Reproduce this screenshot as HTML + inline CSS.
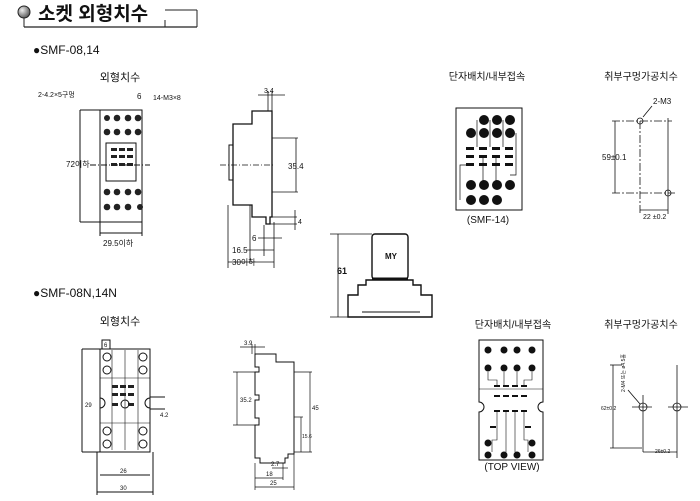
<!DOCTYPE html>
<html><head><meta charset="utf-8"><style>
html,body{margin:0;padding:0;background:#fff;}
svg{display:block;}
text{font-family:"Liberation Sans","Noto Sans CJK KR",sans-serif;fill:#111;}
</style></head><body>
<svg width="700" height="501" viewBox="0 0 700 501" xmlns="http://www.w3.org/2000/svg">
<defs>
<radialGradient id="g" cx="0.35" cy="0.35" r="0.7"><stop offset="0" stop-color="#eee"/><stop offset="1" stop-color="#555"/></radialGradient>
</defs>
<!-- header -->
<circle cx="24" cy="12" r="6" fill="url(#g)" stroke="#222"/>
<line x1="24" y1="18" x2="24" y2="27" stroke="#222"/>
<line x1="24" y1="27" x2="197" y2="27" stroke="#222" stroke-width="1.2"/>
<line x1="165" y1="10" x2="197" y2="10" stroke="#222"/>
<line x1="197" y1="10" x2="197" y2="27" stroke="#222"/>
<line x1="165" y1="20" x2="165" y2="27" stroke="#222"/>
<text x="38" y="20" font-size="19" font-weight="bold">소켓 외형치수</text>

<text x="33" y="54" font-size="12">●SMF-08,14</text>
<text x="120" y="81" font-size="11" text-anchor="middle">외형치수</text>
<text x="38" y="97" font-size="7">2-4.2×5구멍</text>
<text x="153" y="100" font-size="7">14-M3×8</text>
<text x="137" y="99" font-size="8">6</text>

<!-- front view 1 -->
<g stroke="#111" fill="none" stroke-width="1">
<rect x="100" y="110" width="42" height="112"/>
<line x1="80" y1="110" x2="100" y2="110"/><line x1="80" y1="222" x2="100" y2="222"/>
<line x1="80" y1="110" x2="80" y2="222"/>
<line x1="100" y1="222" x2="100" y2="236"/><line x1="142" y1="222" x2="142" y2="236"/>
<line x1="100" y1="233" x2="142" y2="233"/>
<rect x="106" y="143" width="30" height="38"/>
<line x1="90" y1="165" x2="150" y2="165" stroke-dasharray="6 2 1 2"/>
</g>
<g fill="#222">
<circle cx="107" cy="118" r="3"/><circle cx="117" cy="118" r="3.3"/><circle cx="128" cy="118" r="3.3"/><circle cx="138" cy="118" r="3.3"/>
<circle cx="107" cy="132" r="3.3"/><circle cx="117" cy="132" r="3.3"/><circle cx="128" cy="132" r="3.3"/><circle cx="138" cy="132" r="3.3"/>
<circle cx="107" cy="192" r="3.3"/><circle cx="117" cy="192" r="3.3"/><circle cx="128" cy="192" r="3.3"/><circle cx="138" cy="192" r="3.3"/>
<circle cx="107" cy="207" r="3.3"/><circle cx="117" cy="207" r="3.3"/><circle cx="128" cy="207" r="3.3"/><circle cx="140" cy="207" r="3"/>
<rect x="111" y="148" width="6" height="3"/><rect x="119" y="148" width="6" height="3"/><rect x="127" y="148" width="6" height="3"/>
<rect x="111" y="155" width="6" height="3"/><rect x="119" y="155" width="6" height="3"/><rect x="127" y="155" width="6" height="3"/>
<rect x="111" y="163" width="6" height="3"/><rect x="119" y="163" width="6" height="3"/><rect x="127" y="163" width="6" height="3"/>
</g>
<text x="66" y="167" font-size="8">72이하</text>
<text x="103" y="246" font-size="8">29.5이하</text>

<!-- side view 1 -->
<g stroke="#111" fill="none" stroke-width="1.3">
<path d="M252,111 H272 V217 H270 V224 H266 V217 H252 V205 H233 V124 H252 Z"/>
<rect x="229" y="145" width="4" height="35" stroke-width="1"/>
</g>
<g stroke="#111" fill="none" stroke-width="0.8">
<line x1="220" y1="165" x2="275" y2="165" stroke-dasharray="6 2 1 2"/>
<line x1="268" y1="91" x2="268" y2="111"/><line x1="272" y1="91" x2="272" y2="111"/><line x1="258" y1="95" x2="285" y2="95"/>
<line x1="272" y1="138" x2="298" y2="138"/><line x1="272" y1="192" x2="298" y2="192"/><line x1="296" y1="138" x2="296" y2="192"/>
<line x1="270" y1="217" x2="297" y2="217"/><line x1="270" y1="224" x2="297" y2="224"/><line x1="295" y1="210" x2="295" y2="230"/>
<line x1="264" y1="225" x2="264" y2="256"/><line x1="250" y1="205" x2="250" y2="262"/><line x1="228" y1="205" x2="228" y2="268"/><line x1="274" y1="222" x2="274" y2="268"/>
<line x1="258" y1="238" x2="282" y2="238"/><line x1="246" y1="250" x2="274" y2="250"/><line x1="228" y1="262" x2="274" y2="262"/>
</g>
<text x="264" y="93" font-size="7">3.4</text>
<text x="288" y="169" font-size="8">35.4</text>
<text x="298" y="224" font-size="7">4</text>
<text x="252" y="241" font-size="8">6</text>
<text x="232" y="253" font-size="8">16.5</text>
<text x="232" y="265" font-size="8">30이하</text>

<!-- relay -->
<g stroke="#111" fill="none" stroke-width="1.4">
<rect x="372" y="234" width="36" height="45" rx="3"/>
<path d="M348,317 V295 H358 V285 H366 V280 H413 V285 H421 V295 H432 V317 Z"/>
<line x1="372" y1="279" x2="408" y2="279" stroke-width="3"/>
<line x1="362" y1="312" x2="420" y2="312" stroke-width="1"/>
</g>
<g stroke="#111" stroke-width="0.8">
<line x1="330" y1="234" x2="372" y2="234"/><line x1="330" y1="317" x2="348" y2="317"/><line x1="338" y1="234" x2="338" y2="317"/>
</g>
<text x="385" y="259" font-size="8" font-weight="bold">MY</text>
<text x="337" y="274" font-size="9" font-weight="bold">61</text>

<!-- terminal 1 -->
<text x="487" y="80" font-size="10" text-anchor="middle">단자배치/내부접속</text>
<rect x="456" y="108" width="66" height="102" fill="none" stroke="#111"/>
<g fill="#111">
<circle cx="484" cy="120" r="5"/><circle cx="497" cy="120" r="5"/><circle cx="510" cy="120" r="5"/>
<circle cx="471" cy="133" r="5"/><circle cx="484" cy="133" r="5"/><circle cx="497" cy="133" r="5"/><circle cx="510" cy="133" r="5"/>
<circle cx="471" cy="185" r="5"/><circle cx="484" cy="185" r="5"/><circle cx="497" cy="185" r="5"/><circle cx="510" cy="185" r="5"/>
<circle cx="471" cy="200" r="5"/><circle cx="484" cy="200" r="5"/><circle cx="497" cy="200" r="5"/>
<rect x="466" y="147" width="8" height="3"/><rect x="479" y="147" width="8" height="3"/><rect x="492" y="147" width="8" height="3"/><rect x="505" y="147" width="8" height="3"/>
<rect x="466" y="155" width="8" height="3"/><rect x="479" y="155" width="8" height="3"/><rect x="492" y="155" width="8" height="3"/><rect x="505" y="155" width="8" height="3"/>
<rect x="466" y="163" width="8" height="3"/><rect x="479" y="163" width="8" height="3"/><rect x="492" y="163" width="8" height="3"/><rect x="505" y="163" width="8" height="3"/>
</g>
<g stroke="#111" stroke-width="0.7" fill="none">
<path d="M460,200 V165 H466"/><path d="M477,120 V147"/><path d="M490,120 V147"/><path d="M503,120 V147"/>
<path d="M516,133 V175 H510"/><path d="M483,158 V185"/><path d="M496,158 V185"/>
</g>
<g fill="#fff" font-size="6" text-anchor="middle" font-weight="bold">
<text x="484" y="122" fill="#fff">3</text><text x="497" y="122" fill="#fff">2</text><text x="510" y="122" fill="#fff">1</text>
<text x="471" y="135" fill="#fff">8</text><text x="484" y="135" fill="#fff">7</text><text x="497" y="135" fill="#fff">6</text><text x="510" y="135" fill="#fff">5</text>
</g>
<text x="488" y="223" font-size="10" text-anchor="middle">(SMF-14)</text>

<!-- mount 1 -->
<text x="641" y="80" font-size="10" text-anchor="middle">취부구멍가공치수</text>
<text x="653" y="104" font-size="8">2-M3</text>
<g stroke="#111" fill="none" stroke-width="0.8">
<line x1="652" y1="106" x2="643" y2="117"/>
<circle cx="640" cy="121" r="3"/><circle cx="668" cy="193" r="3"/>
<line x1="612" y1="121" x2="672" y2="121" stroke-dasharray="8 2 2 2"/>
<line x1="612" y1="193" x2="675" y2="193" stroke-dasharray="8 2 2 2"/>
<line x1="615" y1="121" x2="615" y2="193"/>
<line x1="640" y1="121" x2="640" y2="214" stroke-dasharray="8 2 2 2"/>
<line x1="668" y1="118" x2="668" y2="214"/>
<line x1="640" y1="210" x2="668" y2="210"/>
</g>
<text x="602" y="160" font-size="8">59±0.1</text>
<text x="643" y="219" font-size="7">22 ±0.2</text>

<!-- section 2 -->
<text x="33" y="297" font-size="12">●SMF-08N,14N</text>
<text x="120" y="325" font-size="11" text-anchor="middle">외형치수</text>
<g stroke="#111" fill="none" stroke-width="1">
<rect x="100" y="349" width="50" height="103"/>
<rect x="102" y="340" width="8" height="9"/>
<line x1="82" y1="349" x2="100" y2="349"/><line x1="82" y1="452" x2="100" y2="452"/><line x1="82" y1="349" x2="82" y2="452"/>
<line x1="97" y1="452" x2="97" y2="495"/><line x1="153" y1="452" x2="153" y2="495"/>
<line x1="100" y1="475" x2="150" y2="475"/><line x1="97" y1="492" x2="153" y2="492"/>
<line x1="112" y1="350" x2="112" y2="450" stroke-width="0.6"/><line x1="125" y1="350" x2="125" y2="450" stroke-width="0.6"/><line x1="138" y1="350" x2="138" y2="450" stroke-width="0.6"/>
<line x1="100" y1="378" x2="150" y2="378" stroke-width="0.6"/><line x1="100" y1="423" x2="150" y2="423" stroke-width="0.6"/>
<circle cx="125" cy="404" r="4"/>
<path d="M100,398 a5,5 0 0 1 0,10"/><path d="M150,398 a5,5 0 0 0 0,10"/>
<line x1="150" y1="397" x2="165" y2="397"/><line x1="150" y1="409" x2="165" y2="409"/>
</g>
<g fill="#fff" stroke="#111" stroke-width="1">
<circle cx="107" cy="357" r="4"/><circle cx="143" cy="357" r="4"/><circle cx="107" cy="370" r="4"/><circle cx="143" cy="370" r="4"/>
<circle cx="107" cy="431" r="4"/><circle cx="143" cy="431" r="4"/><circle cx="107" cy="444" r="4"/><circle cx="143" cy="444" r="4"/>
</g>
<g fill="#222">
<rect x="112" y="385" width="6" height="3"/><rect x="120" y="385" width="6" height="3"/><rect x="128" y="385" width="6" height="3"/>
<rect x="112" y="393" width="6" height="3"/><rect x="120" y="393" width="6" height="3"/><rect x="128" y="393" width="6" height="3"/>
<rect x="112" y="403" width="6" height="3"/><rect x="128" y="403" width="6" height="3"/>
</g>
<text x="104" y="347" font-size="6">6</text>
<text x="85" y="407" font-size="6">29</text>
<text x="160" y="417" font-size="6">4.2</text>
<text x="120" y="473" font-size="6">26</text>
<text x="120" y="490" font-size="6">30</text>

<!-- side view 2 -->
<g stroke="#111" fill="none" stroke-width="1">
<path d="M255,354 H276 V362 H294 V454 H288 V458 H285 V463 H260 V458 H255 V425 H259 V418 H255 V400 H259 V395 H255 V372 H259 V367 H255 Z"/>
</g>
<g stroke="#111" stroke-width="0.7" fill="none">
<line x1="252" y1="344" x2="252" y2="354"/><line x1="255" y1="344" x2="255" y2="354"/><line x1="240" y1="347" x2="265" y2="347"/>
<line x1="233" y1="372" x2="255" y2="372"/><line x1="233" y1="425" x2="255" y2="425"/><line x1="237" y1="372" x2="237" y2="425"/>
<line x1="294" y1="372" x2="312" y2="372"/><line x1="294" y1="452" x2="312" y2="452"/><line x1="310" y1="372" x2="310" y2="452"/>
<line x1="294" y1="417" x2="303" y2="417"/><line x1="301" y1="417" x2="301" y2="452"/>
<line x1="255" y1="463" x2="255" y2="490"/><line x1="294" y1="454" x2="294" y2="490"/><line x1="283" y1="463" x2="283" y2="480"/>
<line x1="255" y1="478" x2="283" y2="478"/><line x1="255" y1="487" x2="294" y2="487"/><line x1="272" y1="468" x2="288" y2="468"/>
</g>
<text x="244" y="345" font-size="6">3.9</text>
<text x="240" y="402" font-size="6">35.2</text>
<text x="312" y="410" font-size="6">45</text>
<text x="302" y="438" font-size="5">15.6</text>
<text x="271" y="466" font-size="6">2.7</text>
<text x="266" y="476" font-size="6">18</text>
<text x="270" y="485" font-size="6">25</text>

<!-- terminal 2 -->
<text x="513" y="328" font-size="10" text-anchor="middle">단자배치/내부접속</text>
<path d="M479,340 H543 V402 a5,5 0 0 0 0,10 V460 H479 V412 a5,5 0 0 0 0,-10 Z" fill="none" stroke="#111"/>
<line x1="479" y1="389" x2="543" y2="389" stroke="#111" stroke-width="0.5"/>
<g fill="#111">
<circle cx="488" cy="350" r="3.5"/><circle cx="504" cy="350" r="3.5"/><circle cx="517" cy="350" r="3.5"/><circle cx="532" cy="350" r="3.5"/>
<circle cx="488" cy="368" r="3.5"/><circle cx="504" cy="368" r="3.5"/><circle cx="517" cy="368" r="3.5"/><circle cx="532" cy="368" r="3.5"/>
<circle cx="488" cy="443" r="3.5"/><circle cx="532" cy="443" r="3.5"/>
<circle cx="488" cy="455" r="3.5"/><circle cx="504" cy="455" r="3.5"/><circle cx="517" cy="455" r="3.5"/><circle cx="532" cy="455" r="3.5"/>
<rect x="494" y="385" width="6" height="2"/><rect x="503" y="385" width="6" height="2"/><rect x="512" y="385" width="6" height="2"/><rect x="521" y="385" width="6" height="2"/>
<rect x="494" y="395" width="6" height="2"/><rect x="503" y="395" width="6" height="2"/><rect x="512" y="395" width="6" height="2"/><rect x="521" y="395" width="6" height="2"/>
<rect x="494" y="410" width="6" height="2"/><rect x="503" y="410" width="6" height="2"/><rect x="512" y="410" width="6" height="2"/><rect x="521" y="410" width="6" height="2"/>
<rect x="490" y="426" width="6" height="2"/><rect x="525" y="426" width="6" height="2"/>
</g>
<g stroke="#111" stroke-width="0.6" fill="none">
<path d="M488,372 V380 H497 V385"/><path d="M504,372 V385"/><path d="M517,372 V385"/><path d="M532,372 V380 H524 V385"/>
<path d="M497,412 V440 H492 V452"/><path d="M524,412 V440 H528 V452"/><path d="M506,412 V452"/><path d="M515,412 V452"/>
</g>
<text x="512" y="470" font-size="10" text-anchor="middle">(TOP VIEW)</text>

<!-- mount 2 -->
<text x="641" y="328" font-size="10" text-anchor="middle">취부구멍가공치수</text>
<g stroke="#111" fill="none" stroke-width="0.8">
<line x1="613" y1="365" x2="613" y2="448"/><line x1="610" y1="365" x2="622" y2="365"/>
<line x1="610" y1="448" x2="642" y2="448"/>
<circle cx="643" cy="407" r="4"/><circle cx="677" cy="407" r="4"/>
<line x1="632" y1="407" x2="652" y2="407"/><line x1="668" y1="407" x2="688" y2="407"/>
<line x1="643" y1="395" x2="643" y2="452"/><line x1="677" y1="365" x2="677" y2="458"/>
<line x1="643" y1="452" x2="677" y2="452"/>
<line x1="628" y1="390" x2="640" y2="404"/>
</g>
<text x="601" y="410" font-size="5">62±0.2</text>
<text x="655" y="453" font-size="5">26±0.2</text>
<text x="0" y="0" font-size="5" transform="translate(625,392) rotate(-90)">2-M4 또는 ø4.5홀</text>
</svg>
</body></html>
